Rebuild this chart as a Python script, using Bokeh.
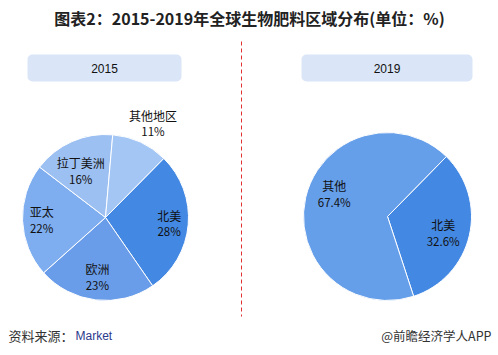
import math
from bokeh.plotting import figure
from bokeh.models import Range1d, BoxAnnotation
from bokeh.core.properties import value
from bokeh.embed import file_html
from bokeh.resources import INLINE

# ---- data ----
title_text = "图表2：2015-2019年全球生物肥料区域分布(单位：%)"
years = ["2015", "2019"]
cats_2015 = ["北美", "欧洲", "亚太", "拉丁美洲", "其他地区"]
vals_2015 = [28, 23, 22, 16, 11]
labels_2015 = ["28%", "23%", "22%", "16%", "11%"]
cats_2019 = ["北美", "其他"]
vals_2019 = [32.6, 67.4]
labels_2019 = ["32.6%", "67.4%"]
source_label = "资料来源："
source_name = "Market"
credit = "@前瞻经济学人APP"

# ---- style ----
W, H = 498, 355
FONT = "Noto Sans CJK SC"
colors_2015 = ["#4388e2", "#6a9de9", "#7eaef0", "#9dc0f2", "#a3c6f5"]
colors_2019 = ["#4388e2", "#659ee9"]
label_r_2015 = [0.77, 0.72, 0.77, 0.64, 1.27]
label_da_2015 = [0, 1, 0, -4, 2]
label_r_2019 = [0.69, 0.69]
label_da_2019 = [3, 10]

def Y(ypix):
    return H - ypix

p = figure(width=W, height=H, output_backend="svg", toolbar_location=None,
           x_range=Range1d(0, W), y_range=Range1d(0, H), min_border=0)
p.axis.visible = False
p.grid.visible = False
p.outline_line_color = None
p.background_fill_color = "white"
p.border_fill_color = "white"

# title
p.text(x=[W / 2], y=[Y(17)], text=[title_text], text_align="center", text_baseline="middle",
       text_font=value(FONT), text_font_size="16px", text_font_style="bold", text_color="#222222")

# header boxes
for (l, r), yr in zip([(27, 181), (301, 472)], years):
    p.add_layout(BoxAnnotation(left=l, right=r, top=Y(54), bottom=Y(81), fill_color="#dae6f7",
                               fill_alpha=1, line_alpha=0, border_radius=5, level="underlay"))
    p.text(x=[(l + r) / 2], y=[Y(67.5)], text=[yr], text_align="center", text_baseline="middle",
           text_font=value("Liberation Sans"), text_font_size="12px", text_color="#111111")

# dashed divider
p.line(x=[241, 241], y=[Y(41), Y(316)], line_color="#e03030", line_width=1, line_dash="4 3")

def pie(cx, cy, r, vals, cats, labs, colors, lr, lda, start_from_top=44.6):
    total = sum(vals)
    a = start_from_top
    for v, c, lab, col, f, da in zip(vals, cats, labs, colors, lr, lda):
        span = v / total * 360.0
        s_math = math.radians(90 - a)
        e_math = math.radians(90 - (a + span))
        p.wedge(x=[cx], y=[Y(cy)], radius=r, start_angle=s_math, end_angle=e_math,
                direction="clock", fill_color=col, line_color="white", line_width=1)
        mid = math.radians(a + span / 2 + da)
        lx = cx + f * r * math.sin(mid)
        ly = cy - f * r * math.cos(mid)
        p.text(x=[lx], y=[Y(ly - 8)], text=[c], text_align="center", text_baseline="middle",
               text_font=value(FONT), text_font_size="12px", text_color="#111111")
        p.text(x=[lx], y=[Y(ly + 8)], text=[lab], text_align="center", text_baseline="middle",
               text_font=value(FONT), text_font_size="11.5px", text_color="#111111")
        a += span

pie(105, 217, 83, vals_2015, cats_2015, labels_2015, colors_2015, label_r_2015, label_da_2015)
pie(387, 216, 84, vals_2019, cats_2019, labels_2019, colors_2019, label_r_2019, label_da_2019, 44.5)

# footer
p.text(x=[8], y=[Y(335)], text=[source_label], text_align="left", text_baseline="middle",
       text_font=value(FONT), text_font_size="13px", text_color="#333333")
p.text(x=[75], y=[Y(335)], text=[source_name], text_align="left", text_baseline="middle",
       text_font=value("Liberation Sans"), text_font_size="12px", text_color="#2b3a8c")
p.text(x=[491], y=[Y(335)], text=[credit], text_align="right", text_baseline="middle",
       text_font=value(FONT), text_font_size="12.5px", text_color="#333333")

open("out.html", "w").write(file_html(p, INLINE))
